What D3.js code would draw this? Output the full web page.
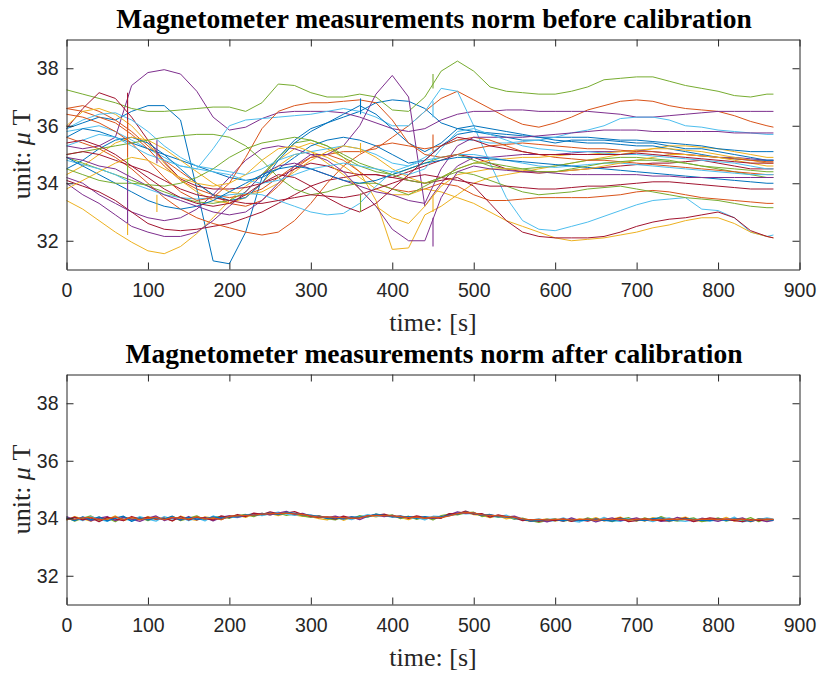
<!DOCTYPE html>
<html>
<head>
<meta charset="utf-8">
<script src="https://cdn.jsdelivr.net/npm/d3@7"></script>
<style>
  body { margin: 0; background: #fff; }
</style>
</head>
<body>
<div id="chart"></div>
<script>
// sample times of the raw norms [s]
var times = [0,20,40,60,80,100,120,140,160,180,200,220,240,260,280,300,320,340,360,380,400,420,440,460,480,500,520,540,560,580,600,620,640,660,680,700,720,740,760,780,800,820,840,860,868];

// norm before calibration, one array per sensor run [uT]
var b1 = [35.9,36.1,36.3,36.2,36.5,36.7,36.7,36.2,33.8,31.3,31.2,32.3,34.2,34.9,35.5,35.9,36.1,36.3,36.5,36.8,36.9,36.85,36.6,36.1,35.9,35.8,35.7,35.6,35.5,35.5,35.4,35.5,35.5,35.5,35.45,35.4,35.4,35.3,35.2,35.2,35.1,35.0,34.9,34.8,34.8];
var o1 = [36.6,36.7,36.5,36.2,35.8,35.3,34.8,34.4,34.0,33.6,33.3,33.2,33.4,33.9,34.5,34.9,35.0,35.1,35.1,35.2,35.6,36.0,36.5,36.95,37.2,36.9,36.6,36.3,36.05,35.95,36.1,36.3,36.55,36.7,36.85,36.9,36.85,36.7,36.6,36.55,36.5,36.35,36.15,36.0,35.95];
var y1 = [33.4,33.1,32.7,32.3,31.95,31.65,31.55,31.8,32.25,32.8,33.4,33.9,34.3,34.8,35.2,35.4,35.2,34.9,34.4,33.4,31.7,31.75,32.9,33.2,33.6,34.0,34.2,34.3,34.4,34.5,34.6,34.7,34.8,34.9,35.0,35.1,35.2,35.3,35.3,35.25,35.2,35.1,35.0,34.9,34.9];
var p1 = [35.3,35.2,35.3,35.6,37.4,37.85,37.95,37.8,37.2,36.3,35.85,35.95,36.25,36.45,36.5,36.5,36.5,36.45,36.3,36.1,35.9,35.8,35.9,36.2,36.4,36.5,36.5,36.55,36.55,36.5,36.5,36.5,36.5,36.45,36.4,36.3,36.3,36.35,36.4,36.45,36.5,36.5,36.5,36.5,36.5];
var g1 = [37.25,37.1,36.95,36.8,36.6,36.5,36.5,36.55,36.6,36.65,36.65,36.5,36.8,37.45,37.4,37.15,37.0,37.0,37.1,37.0,36.55,36.5,37.0,37.9,38.25,37.9,37.35,37.2,37.15,37.1,37.1,37.2,37.35,37.6,37.65,37.7,37.7,37.55,37.4,37.3,37.2,37.05,37.0,37.1,37.1];
var c1 = [35.8,35.9,36.0,35.8,35.5,35.2,34.9,34.6,34.5,35.2,36.0,36.2,36.25,36.3,36.35,36.4,36.5,36.6,36.5,36.3,36.0,36.0,36.5,37.3,37.2,36.0,34.7,33.5,32.7,32.4,32.35,32.5,32.65,32.85,33.05,33.25,33.4,33.45,33.5,33.1,33.05,32.8,32.3,32.15,32.2];
var r1 = [35.9,36.6,37.15,36.95,36.3,35.5,34.75,34.15,33.9,33.8,33.8,33.85,34.0,34.2,34.5,34.7,34.6,34.4,34.3,34.3,34.2,34.4,34.6,34.8,35.0,34.9,34.7,34.5,34.4,34.35,34.4,34.45,34.5,34.55,34.6,34.65,34.7,34.7,34.75,34.8,34.7,34.6,34.5,34.5,34.5];
var b2 = [35.6,35.9,35.8,35.6,35.4,35.2,35.0,34.8,34.6,34.4,34.2,34.1,34.2,34.5,34.9,35.3,35.5,35.6,35.5,35.3,35.0,34.7,34.8,35.3,35.7,35.8,35.75,35.7,35.65,35.6,35.6,35.6,35.6,35.55,35.5,35.5,35.45,35.4,35.35,35.3,35.2,35.15,35.1,35.1,35.1];
var o2 = [36.6,36.5,36.3,36.1,35.7,35.2,34.6,34.1,33.8,33.6,33.5,33.6,33.8,34.2,34.6,34.9,35.0,34.8,34.4,34.0,33.8,33.7,33.8,34.0,33.9,33.6,33.4,33.4,33.45,33.5,33.5,33.5,33.5,33.55,33.6,33.7,33.75,33.7,33.6,33.5,33.45,33.4,33.35,33.3,33.3];
var y2 = [36.0,36.5,36.6,36.4,36.0,35.4,34.7,34.1,33.7,33.4,33.3,33.5,34.0,34.6,35.0,35.1,34.9,34.6,34.2,33.8,33.6,33.6,33.8,33.7,33.5,33.3,33.0,32.7,32.5,32.3,32.1,32.0,32.05,32.1,32.2,32.3,32.45,32.55,32.7,32.8,32.8,32.6,32.3,32.15,32.1];
var p2 = [34.2,34.0,33.6,33.3,33.0,32.8,32.7,32.8,33.1,33.6,34.2,34.8,35.2,35.3,35.2,35.0,35.0,35.3,36.0,37.1,37.75,37.0,33.2,34.0,34.6,34.9,34.9,34.95,35.0,35.0,35.0,35.05,35.1,35.1,35.1,35.15,35.1,35.05,35.0,34.95,34.9,34.9,34.85,34.8,34.8];
var g2 = [34.9,34.7,34.5,34.3,34.1,33.9,33.7,33.5,33.35,33.3,33.4,33.7,34.3,34.9,35.4,35.5,35.3,34.9,34.6,34.4,34.3,34.5,34.7,34.9,35.0,34.8,34.6,34.5,34.5,34.55,34.6,34.7,34.8,34.85,34.9,34.9,34.85,34.8,34.7,34.6,34.5,34.4,34.3,34.2,34.2];
var c2 = [35.9,36.2,36.4,36.45,36.2,35.8,35.3,34.9,34.6,34.5,34.4,34.3,34.5,34.8,35.0,35.1,35.2,35.3,35.2,35.0,34.7,34.6,34.9,35.3,35.5,35.5,35.4,35.4,35.45,35.5,35.6,35.75,35.85,36.0,36.25,36.3,36.3,36.2,36.0,35.95,35.85,35.8,35.75,35.7,35.7];
var r2 = [34.1,33.9,33.7,33.4,33.0,32.6,32.4,32.35,32.4,32.5,32.6,32.8,33.0,33.3,33.6,33.9,34.1,34.2,34.3,34.3,34.2,34.1,34.0,34.1,34.2,33.9,33.3,32.7,32.3,32.15,32.1,32.1,32.1,32.15,32.3,32.5,32.65,32.75,32.8,32.9,33.0,32.8,32.35,32.15,32.1];
var b3 = [34.5,34.8,35.2,35.5,35.6,35.4,35.0,34.5,34.0,33.6,33.4,33.5,34.0,34.8,35.4,35.8,36.1,36.4,36.7,36.4,35.9,35.4,35.1,35.4,35.9,36.0,35.9,35.8,35.7,35.6,35.5,35.45,35.4,35.4,35.35,35.3,35.3,35.2,35.1,35.0,34.9,34.85,34.8,34.8,34.8];
var o3 = [35.6,35.4,35.2,34.9,34.5,34.0,33.5,33.1,32.8,32.6,32.45,32.3,32.2,32.3,32.7,33.3,34.0,34.6,35.0,35.3,35.4,35.3,35.2,35.3,35.5,35.6,35.5,35.3,35.1,35.0,34.9,34.85,34.8,34.8,34.75,34.7,34.65,34.6,34.55,34.5,34.45,34.4,34.35,34.3,34.3];
var y3 = [34.3,34.6,35.0,35.4,35.6,35.5,35.2,34.8,34.4,34.0,33.7,33.6,33.7,34.0,34.4,34.8,35.1,35.3,35.2,34.9,34.5,34.2,34.0,34.2,34.5,34.7,34.8,34.85,34.9,34.9,34.95,35.0,35.0,35.05,35.1,35.15,35.2,35.2,35.15,35.1,35.0,34.9,34.8,34.7,34.7];
var p3 = [34.0,33.6,33.3,32.9,32.5,32.3,32.15,32.15,32.3,32.7,33.2,33.7,34.3,34.6,34.7,34.5,34.3,34.1,33.9,33.7,33.6,33.4,33.3,34.5,35.3,35.6,35.6,35.6,35.6,35.65,35.7,35.75,35.8,35.85,35.85,35.85,35.8,35.8,35.8,35.8,35.8,35.75,35.75,35.75,35.75];
var g3 = [35.0,35.1,35.2,35.3,35.4,35.5,35.6,35.65,35.7,35.7,35.6,35.3,34.8,34.2,33.8,33.6,33.7,33.9,34.0,34.0,33.8,33.6,33.9,34.2,34.4,34.3,34.1,33.9,33.7,33.6,33.65,33.7,33.8,33.85,33.9,33.8,33.7,33.6,33.5,33.45,33.4,33.3,33.2,33.15,33.15];
var c3 = [34.8,34.65,34.5,34.3,34.0,33.8,33.6,33.5,33.45,33.5,33.6,33.65,33.6,33.4,33.2,33.0,32.9,32.95,33.3,33.9,34.4,34.6,34.8,34.9,35.0,35.0,34.9,34.8,34.7,34.6,34.55,34.6,34.65,34.7,34.7,34.65,34.6,34.55,34.5,34.45,34.4,34.35,34.3,34.3,34.3];
var r3 = [35.0,35.1,35.0,34.8,34.6,34.4,34.1,33.8,33.6,33.5,33.4,33.3,33.3,33.4,33.5,33.6,33.55,33.5,33.6,33.8,34.0,34.2,34.3,34.2,34.1,34.0,33.9,33.9,33.85,33.8,33.8,33.85,33.9,33.9,33.95,34.0,34.05,34.05,34.0,33.95,33.9,33.85,33.8,33.8,33.8];
var b4 = [34.9,34.6,34.3,34.0,33.7,33.4,33.2,33.1,33.2,33.4,33.7,34.0,34.3,34.5,34.6,34.5,34.3,34.1,34.0,34.1,34.3,34.5,34.7,34.8,34.9,34.9,34.85,34.8,34.75,34.7,34.65,34.6,34.55,34.5,34.45,34.4,34.35,34.3,34.25,34.2,34.15,34.1,34.05,34.0,34.0];
var o4 = [36.4,36.3,36.1,35.8,35.4,34.8,34.2,33.7,33.4,33.5,34.0,34.9,35.9,36.5,36.7,36.8,36.8,36.85,36.9,36.8,36.2,35.4,35.0,34.9,35.0,35.2,35.3,35.35,35.4,35.35,35.3,35.25,35.2,35.2,35.15,35.1,35.1,35.05,35.0,34.95,34.9,34.85,34.8,34.75,34.75];
var y4 = [33.8,34.1,34.4,34.7,34.9,34.8,34.5,34.2,34.0,33.9,34.0,34.3,34.8,35.2,35.3,35.1,34.7,34.3,33.8,33.2,32.8,32.6,33.2,33.9,34.3,34.4,34.5,34.5,34.45,34.4,34.4,34.45,34.5,34.6,34.7,34.8,34.9,35.0,35.0,34.95,34.9,34.8,34.7,34.6,34.6];
var p4 = [34.9,34.8,34.6,34.5,34.2,33.9,33.6,33.4,33.2,33.0,32.9,33.0,33.4,34.0,34.6,35.0,34.8,34.4,33.8,33.2,32.4,32.0,32.0,33.5,34.4,34.6,34.5,34.45,34.4,34.4,34.35,34.3,34.3,34.3,34.3,34.3,34.25,34.25,34.2,34.2,34.2,34.2,34.2,34.2,34.2];
var g4 = [34.5,34.3,34.1,34.0,34.0,33.95,33.9,34.0,34.2,34.5,34.9,35.2,35.4,35.5,35.6,35.5,35.3,35.0,34.7,34.5,34.3,34.1,34.0,34.2,34.5,34.7,34.7,34.6,34.5,34.4,34.4,34.5,34.6,34.7,34.75,34.8,34.8,34.75,34.7,34.6,34.55,34.5,34.45,34.4,34.4];
var c4 = [35.3,35.5,35.7,35.6,35.3,35.0,34.8,34.6,34.5,34.4,34.3,34.1,34.0,34.1,34.3,34.5,34.6,34.7,34.6,34.5,34.4,34.3,34.5,35.2,35.8,35.9,35.7,35.5,35.3,35.2,35.15,35.1,35.1,35.05,35.0,35.0,34.95,34.9,34.85,34.8,34.75,34.7,34.6,34.5,34.5];
var r4 = [35.4,35.5,35.3,35.0,34.6,34.2,33.8,33.5,33.3,33.2,33.3,33.6,34.0,34.3,34.2,33.9,33.5,33.2,33.0,33.3,33.8,34.3,34.8,35.3,35.6,35.5,35.3,35.2,35.1,35.0,35.0,35.0,35.0,35.0,35.0,35.05,35.0,34.95,34.9,34.85,34.8,34.75,34.7,34.7,34.7];

var beforeSeries = [b1,o1,y1,p1,g1,c1,r1, b2,o2,y2,p2,g2,c2,r2, b3,o3,y3,p3,g3,c3,r3, b4,o4,y4,p4,g4,c4,r4];

// short disturbance spikes seen in the raw data: time, low, high, index of the run
var spikeT    = [75, 75, 75, 75, 75, 111, 111, 361, 361, 361, 450, 450, 450, 450, 450];
var spikeLo   = [35.9, 34.9, 32.6, 34.3, 32.2, 34.7, 33.0, 36.4, 33.0, 35.05, 37.3, 36.3, 35.1, 31.8, 33.0];
var spikeHi   = [37.15, 36.2, 34.4, 34.9, 32.6, 35.5, 33.6, 36.95, 33.65, 35.4, 37.8, 36.85, 35.7, 32.8, 33.6];
var spikeRun  = [6, 1, 24, 11, 2, 17, 16, 14, 18, 16, 4, 5, 22, 24, 2];

// calibrated norms, sampled finer
var timesAfter = [0,10,20,30,40,50,60,70,80,90,100,110,120,130,140,150,160,170,180,190,200,210,220,230,240,250,260,270,280,290,300,310,320,330,340,350,360,370,380,390,400,410,420,430,440,450,460,470,480,490,500,510,520,530,540,550,560,570,580,590,600,610,620,630,640,650,660,670,680,690,700,710,720,730,740,750,760,770,780,790,800,810,820,830,840,850,860,868];

var aY = [33.93,34.06,33.98,33.90,34.04,33.95,34.08,33.92,34.01,33.94, 34.06,33.95,34.03,33.91,34.07,33.98,33.93,34.05,34.00,33.95, 34.07,34.11,34.03,34.14,34.10,34.17,34.09,34.18,34.12,34.07, 34.06,33.99,33.94,34.05,33.93,34.03,34.00,34.11,34.05,34.12, 34.07,34.03,33.95,34.06,33.98,34.04,34.01,34.11,34.15,34.21, 34.13,34.10,34.02,34.09,33.98,34.04,33.94,33.89,33.93,33.98, 33.90,33.96,33.89,33.98,33.93,34.02,33.91,33.97,34.04,33.92, 33.98,33.90,34.02,33.95,33.88,33.98,34.04,33.93,33.90,33.98, 33.93,34.03,33.90,33.97,33.87,33.99,33.93,33.96];
var aG = [34.04,33.90,34.00,34.08,33.93,34.01,33.88,34.05,33.95,34.03, 33.92,34.04,33.95,34.06,33.92,34.00,34.08,33.94,34.04,34.06, 34.00,34.09,34.13,34.06,34.17,34.12,34.19,34.10,34.16,34.08, 34.03,34.09,33.99,33.94,34.05,33.97,34.09,34.04,34.14,34.08, 34.12,33.99,34.07,33.96,34.05,33.94,34.09,34.14,34.12,34.19, 34.21,34.06,34.12,34.03,34.08,33.96,34.00,33.92,33.86,33.93, 33.98,33.89,33.96,33.91,34.01,33.93,33.98,33.88,33.96,34.02, 33.90,34.01,33.93,34.06,33.95,33.90,33.96,34.01,33.88,33.93, 34.01,33.90,33.98,33.93,34.02,33.88,33.99,33.94];
var aC = [33.97,34.01,33.92,34.06,33.97,33.89,34.04,33.98,33.92,34.06, 33.97,33.90,34.06,33.97,34.03,33.92,34.01,33.91,34.08,33.97, 34.05,34.02,34.11,34.16,34.09,34.15,34.21,34.14,34.10,34.15, 34.10,34.03,34.06,33.99,34.02,33.95,34.05,34.13,34.07,34.10, 34.03,34.09,34.01,34.02,33.94,34.07,34.06,34.08,34.20,34.15, 34.17,34.13,34.07,34.05,34.11,33.99,33.95,33.93,33.98,33.89, 33.92,34.01,33.91,33.87,33.96,33.90,34.03,33.92,33.89,33.98, 33.96,33.95,33.88,33.98,34.01,33.92,33.89,33.95,33.98,33.90, 33.95,33.92,34.04,33.87,33.93,33.96,34.01,33.97];
var aP = [34.06,33.94,34.03,33.91,34.00,34.06,33.92,34.03,33.97,33.89, 34.00,34.08,33.92,34.01,33.94,34.06,33.94,34.03,33.91,34.03, 34.09,34.04,34.08,34.12,34.17,34.12,34.18,34.24,34.13,34.17, 34.06,34.07,34.02,34.07,34.00,34.05,33.95,34.07,34.13,34.06, 34.10,34.02,34.05,34.04,34.02,34.00,34.05,34.12,34.22,34.17, 34.19,34.10,34.11,34.08,34.04,34.07,33.97,33.90,33.95,33.87, 33.95,33.90,34.01,33.92,33.98,33.87,33.95,34.01,33.92,33.95, 34.01,33.92,33.98,33.89,33.92,34.03,33.95,33.89,34.00,33.95, 33.89,33.98,33.95,34.01,33.89,33.95,33.88,33.93];
var aR = [33.95,34.04,33.94,34.01,33.88,34.03,33.97,33.92,34.06,33.97, 34.04,33.97,34.00,33.91,34.06,33.94,34.03,34.00,33.94,34.08, 34.02,34.13,34.06,34.18,34.13,34.22,34.15,34.18,34.23,34.13, 34.08,34.02,34.04,33.97,34.07,34.00,34.02,34.08,34.10,34.14, 34.06,34.07,34.00,34.08,34.02,34.02,34.00,34.16,34.15,34.25, 34.14,34.16,34.04,34.12,34.06,34.02,33.92,33.95,33.89,33.95, 33.92,33.98,33.89,33.95,33.90,33.98,33.92,33.95,34.01,33.88, 33.92,33.98,33.95,33.92,33.97,33.94,34.01,33.88,33.95,34.01, 33.98,33.95,33.92,33.88,33.95,33.92,33.96,33.95];
var aB = [34.01,33.92,34.05,33.94,34.05,33.91,34.00,34.07,33.89,34.01, 33.94,34.01,33.97,34.07,33.94,34.03,33.97,33.98,34.05,34.00, 34.05,34.06,34.12,34.10,34.14,34.18,34.13,34.20,34.17,34.12, 34.11,34.06,34.00,34.02,33.97,34.05,34.04,34.06,34.14,34.10, 34.06,34.04,34.06,34.00,34.06,34.02,34.05,34.10,34.14,34.21, 34.18,34.10,34.13,34.06,34.05,34.02,33.97,33.90,33.93,33.96, 33.96,33.92,33.96,33.93,33.93,33.97,33.93,33.90,33.99,33.96, 33.95,33.92,33.99,34.01,33.90,33.95,33.98,33.96,33.93,33.92, 33.98,33.93,33.98,33.96,33.89,33.98,33.95,33.93];
var aO = [33.98,33.97,34.01,34.03,33.95,33.97,34.05,33.95,34.03,33.95, 34.00,34.03,33.95,34.03,34.00,33.97,34.05,33.98,34.01,33.95, 34.07,34.08,34.10,34.11,34.14,34.16,34.16,34.18,34.15,34.13, 34.08,34.04,34.05,34.03,34.02,34.00,34.01,34.08,34.10,34.09, 34.08,34.06,34.02,34.04,34.00,34.04,34.02,34.08,34.16,34.20, 34.19,34.12,34.10,34.08,34.06,34.03,33.98,33.94,33.96,33.94, 33.96,33.97,33.94,33.96,33.96,33.93,33.97,33.96,33.97,33.94, 33.96,33.98,33.93,33.96,33.97,33.96,33.96,33.94,33.97,33.96, 33.97,33.96,33.96,33.97,33.93,33.96,33.97,33.96];

var afterSeries = [aY, aG, aC, aP, aR, aB, aO];

// MATLAB default colour order
var lineColors = ["#0072BD","#D95319","#EDB120","#7E2F8E","#77AC30","#4DBEEE","#A2142F"];
var afterColors = ["#EDB120","#77AC30","#4DBEEE","#7E2F8E","#A2142F","#0072BD","#D95319"];

var xTicks = [0,100,200,300,400,500,600,700,800,900];
var yTicks = [32,34,36,38];

var W = 820, H = 673;
var axisColor = "#262626";

var svg = d3.select("#chart")
  .append("svg")
    .attr("width", W)
    .attr("height", H);

function drawPanel(top, tvals, series, colors, title, spikes, lineWidth) {
  var height = 230;
  var x = d3.scaleLinear().domain([0, 900]).range([66.5, 799.5]);
  var y = d3.scaleLinear().domain([31, 39]).range([top + height, top]);

  var g = svg.append("g");

  // the measurement lines
  var line = d3.line()
    .x(function(d, i) { return x(tvals[i]); })
    .y(function(d) { return y(d); });

  g.append("g")
    .selectAll("path")
    .data(series)
    .enter()
    .append("path")
      .attr("d", line)
      .attr("fill", "none")
      .attr("stroke", function(d, i) { return colors[i % colors.length]; })
      .attr("stroke-width", lineWidth)
      .attr("stroke-linejoin", "round");

  // spikes
  if (spikes) {
    g.append("g")
      .selectAll("line")
      .data(spikes.t)
      .enter()
      .append("line")
        .attr("x1", function(d) { return x(d); })
        .attr("x2", function(d) { return x(d); })
        .attr("y1", function(d, i) { return y(spikes.lo[i]); })
        .attr("y2", function(d, i) { return y(spikes.hi[i]); })
        .attr("stroke", function(d, i) { return colors[spikes.run[i] % colors.length]; })
        .attr("stroke-width", 1.1);
  }

  // box with inward ticks on all four sides
  g.append("g")
    .attr("transform", "translate(0," + (top + height) + ")")
    .call(d3.axisBottom(x).tickValues(xTicks).tickSizeInner(-7).tickSizeOuter(0).tickPadding(14));
  g.append("g")
    .attr("transform", "translate(0," + top + ")")
    .call(d3.axisTop(x).tickValues(xTicks).tickSizeInner(-7).tickSizeOuter(0).tickFormat(""));
  g.append("g")
    .attr("transform", "translate(66.5,0)")
    .call(d3.axisLeft(y).tickValues(yTicks).tickSizeInner(-7).tickSizeOuter(0).tickPadding(8));
  g.append("g")
    .attr("transform", "translate(799.5,0)")
    .call(d3.axisRight(y).tickValues(yTicks).tickSizeInner(-7).tickSizeOuter(0).tickFormat(""));

  g.selectAll(".domain").attr("stroke", axisColor);
  g.selectAll(".tick line").attr("stroke", axisColor);
  g.selectAll(".tick text")
    .attr("fill", axisColor)
    .style("font-family", "'Liberation Sans', Arial, sans-serif")
    .style("font-size", "19.5px");

  // title
  svg.append("text")
    .attr("x", 434)
    .attr("y", top - 11.5)
    .attr("text-anchor", "middle")
    .style("font-family", "'Liberation Serif', 'Times New Roman', serif")
    .style("font-weight", "bold")
    .style("font-size", "27.5px")
    .attr("fill", "#000")
    .text(title);

  // x label
  svg.append("text")
    .attr("x", 433)
    .attr("y", top + height + 61.5)
    .attr("text-anchor", "middle")
    .style("font-family", "'Liberation Serif', 'Times New Roman', serif")
    .style("font-size", "26px")
    .attr("fill", axisColor)
    .text("time: [s]");

  // y label, with the greek mu in italics like the TeX interpreter
  var yl = svg.append("text")
    .attr("transform", "translate(30," + (top + height / 2) + ") rotate(-90)")
    .attr("text-anchor", "middle")
    .style("font-family", "'Liberation Serif', 'Times New Roman', serif")
    .style("font-size", "26px")
    .attr("fill", axisColor);
  yl.append("tspan").text("unit: ");
  yl.append("tspan").style("font-style", "italic").text("\u03bc");
  yl.append("tspan").text(" T");
}

drawPanel(39.5, times, beforeSeries, lineColors, "Magnetometer measurements norm before calibration",
  {t: spikeT, lo: spikeLo, hi: spikeHi, run: spikeRun}, 1);
drawPanel(374.5, timesAfter, afterSeries, afterColors, "Magnetometer measurements norm after calibration", null, 1.3);
</script>
</body>
</html>
